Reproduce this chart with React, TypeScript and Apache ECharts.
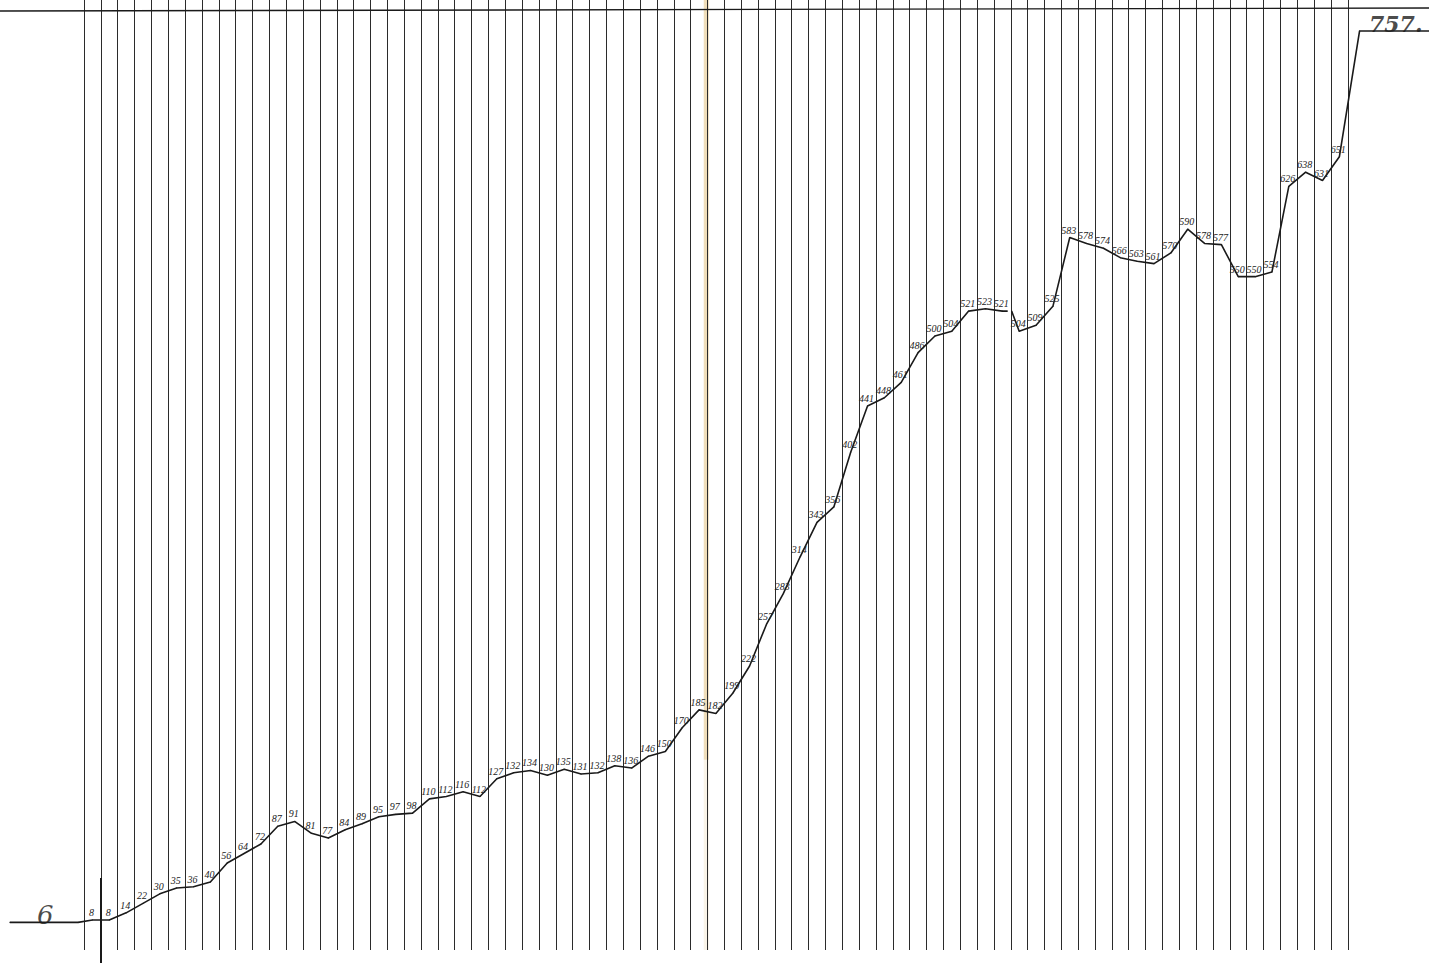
import React, { useEffect, useRef } from "react";
import * as echarts from "echarts";

// value before the first year line and after the last one
const startValue = 6;
const endValue = 757;
const startLabel = "6";
const endLabel = "757.";

// one value per interval between consecutive year lines (75 intervals)
const values = [
  8, 8, 14, 22, 30, 35, 36, 40, 56, 64,
  72, 87, 91, 81, 77, 84, 89, 95, 97, 98,
  110, 112, 116, 112, 127, 132, 134, 130, 135, 131,
  132, 138, 136, 146, 150, 170, 185, 182, 199, 222,
  257, 283, 314, 343, 356, 402, 441, 448, 461, 486,
  500, 504, 521, 523, 521, 504, 509, 525, 583, 578,
  574, 566, 563, 561, 570, 590, 578, 577, 550, 550,
  554, 626, 638, 631, 651,
];

// number of vertical year lines and the line where the curve is broken
const yearLineCount = 76;
const breakAtLine = 55;
const highlightedLine = 37;

export default function App() {
  const ref = useRef<HTMLDivElement>(null);

  useEffect(() => {
    if (!ref.current) return;
    const chart = echarts.init(ref.current, null, { renderer: "svg" });

    const noLabel = { show: false };
    const pts: any[] = [];
    pts.push({ value: [-4.4, startValue], label: noLabel });
    pts.push({ value: [-0.35, startValue], label: noLabel });
    values.forEach((v, k) => {
      if (k === breakAtLine) {
        pts.push({ value: [breakAtLine - 0.2, values[k - 1]], label: noLabel });
        pts.push({ value: [breakAtLine, "-"] });
        pts.push({ value: [breakAtLine + 0.05, values[k - 1]], label: noLabel });
      }
      pts.push({ value: [k + 0.5, v] });
    });
    pts.push({ value: [yearLineCount - 1 + 0.7, endValue], label: noLabel });
    pts.push({ value: [79.9, endValue], label: noLabel });

    const lines = Array.from({ length: yearLineCount }, (_, i) => ({ xAxis: i }));

    const option: any = {
      animation: false,
      backgroundColor: "#ffffff",
      grid: { left: 0, right: 0, top: 0, bottom: 13 },
      xAxis: { type: "value", min: -4.985, max: 79.82, show: false },
      yAxis: { type: "value", min: -17.3, max: 783.1, show: false },
      series: [
        {
          type: "line",
          data: pts,
          connectNulls: false,
          showSymbol: true,
          symbol: "circle",
          symbolSize: 1,
          itemStyle: { color: "#1a1a1a" },
          lineStyle: { color: "#1a1a1a", width: 1.6 },
          z: 5,
          label: {
            show: true,
            position: "top",
            distance: 2,
            offset: [-1, 0],
            formatter: (p: any) => String(p.value[1]),
            fontSize: 10,
            fontFamily: "Liberation Serif",
            fontStyle: "italic",
            color: "#222222",
          },
          markLine: {
            silent: true,
            symbol: ["none", "none"],
            label: { show: false },
            lineStyle: { color: "#2b2b2b", width: 1, type: "solid" },
            data: lines,
            z: 1,
          },
          markArea: {
            silent: true,
            itemStyle: { color: "rgba(230,200,140,0.6)" },
            data: [
              [
                { xAxis: highlightedLine - 0.22, yAxis: 783.1 },
                { xAxis: highlightedLine + 0.08, yAxis: 143 },
              ],
              [
                { xAxis: highlightedLine - 0.22, yAxis: 143 },
                { xAxis: highlightedLine + 0.08, yAxis: -17.3, itemStyle: { color: "rgba(230,200,140,0.2)" } },
              ],
            ],
          },
        },
        {
          type: "scatter",
          symbolSize: 0,
          z: 6,
          data: [
            { value: [-2.3, startValue], label: { formatter: startLabel, fontSize: 26, offset: [0, 6] } },
            { value: [77.85, endValue], label: { formatter: endLabel, fontSize: 22, fontWeight: "bold", offset: [0, 4] } },
          ],
          label: {
            show: true,
            position: "top",
            distance: 0,
            fontFamily: "DejaVu Serif",
            fontStyle: "italic",
            color: "#1a1a1a",
          },
        },
      ],
      graphic: [
        {
          type: "line",
          shape: { x1: 0, y1: 11, x2: 1429, y2: 8 },
          style: { stroke: "#1a1a1a", lineWidth: 1.4 },
          z: 10,
        },
        {
          type: "line",
          shape: { x1: 101, y1: 878, x2: 101, y2: 963 },
          style: { stroke: "#1a1a1a", lineWidth: 2 },
          z: 10,
        },
      ],
    };

    chart.setOption(option);
    return () => chart.dispose();
  }, []);

  return (
    <div
      ref={ref}
      style={{ position: "fixed", left: 0, top: 0, width: 1429, height: 963 }}
    />
  );
}
